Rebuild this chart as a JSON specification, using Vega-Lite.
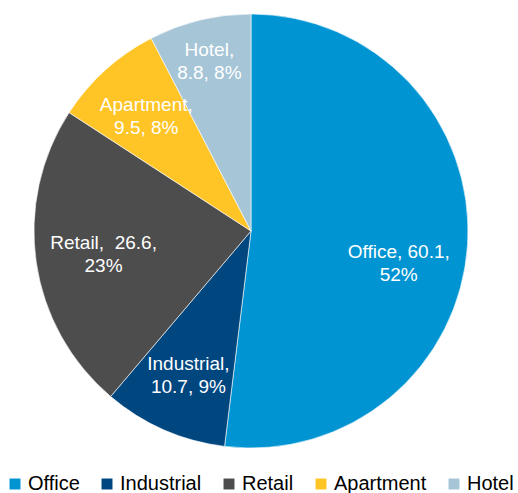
{
  "$schema": "https://vega.github.io/schema/vega-lite/v6.json",
  "width": 502,
  "height": 462,
  "padding": 0,
  "autosize": {"type": "pad"},
  "background": "white",
  "config": {"view": {"stroke": null}, "font": "Liberation Sans"},
  "data": {
    "values": [
      {"sector": "Office", "value": 60.1, "rank": 1, "label": "Office, 60.1,\n52%"},
      {"sector": "Industrial", "value": 10.7, "rank": 2, "label": "Industrial,\n10.7, 9%"},
      {"sector": "Retail", "value": 26.6, "rank": 3, "label": "Retail,\u00a0 26.6,\n23%"},
      {"sector": "Apartment", "value": 9.5, "rank": 4, "label": "Apartment,\n9.5, 8%"},
      {"sector": "Hotel", "value": 8.8, "rank": 5, "label": "Hotel,\n8.8, 8%"}
    ]
  },
  "transform": [
    {"stack": "value", "groupby": [], "sort": [{"field": "rank", "order": "ascending"}], "as": ["v0", "v1"]},
    {"calculate": "(datum.v0 + datum.v1) / 2", "as": "vmid"}
  ],
  "layer": [
    {
      "mark": {"type": "arc", "outerRadius": 217, "stroke": "#ffffff", "strokeWidth": 0.6},
      "encoding": {
        "theta": {"field": "v0", "type": "quantitative", "stack": null, "scale": {"domain": [0, 115.7]}},
        "theta2": {"field": "v1"},
        "color": {
          "field": "sector",
          "type": "nominal",
          "scale": {
            "domain": ["Office", "Industrial", "Retail", "Apartment", "Hotel"],
            "range": ["#0094D2", "#00467F", "#4D4D4D", "#FFC425", "#A6C5D7"]
          },
          "legend": {
            "title": null,
            "orient": "none",
            "direction": "horizontal",
            "legendX": 5,
            "legendY": 474,
            "symbolType": "square",
            "symbolSize": 120,
            "symbolStrokeWidth": 0,
            "labelFontSize": 20,
            "labelFont": "Liberation Sans",
            "labelColor": "#000000",
            "labelOffset": 3,
            "columnPadding": 17
          }
        }
      }
    },
    {
      "transform": [{"filter": "datum.sector === 'Industrial' || datum.sector === 'Apartment'"}],
      "mark": {
        "type": "text",
        "radius": 156,
        "dy": -10,
        "fontSize": 19,
        "font": "Liberation Sans",
        "color": "#ffffff",
        "lineBreak": "\n",
        "lineHeight": 23,
        "align": "center",
        "baseline": "middle"
      },
      "encoding": {
        "theta": {"field": "vmid", "type": "quantitative", "stack": null},
        "text": {"field": "label", "type": "nominal"}
      }
    },
    {
      "transform": [{"filter": "datum.sector === 'Retail'"}],
      "mark": {
        "type": "text",
        "radius": 149,
        "dy": -10,
        "fontSize": 19,
        "font": "Liberation Sans",
        "color": "#ffffff",
        "lineBreak": "\n",
        "lineHeight": 23,
        "align": "center",
        "baseline": "middle"
      },
      "encoding": {
        "theta": {"field": "vmid", "type": "quantitative", "stack": null},
        "text": {"field": "label", "type": "nominal"}
      }
    },
    {
      "transform": [{"filter": "datum.sector === 'Hotel'"}],
      "mark": {
        "type": "text",
        "radius": 176,
        "dy": -10,
        "fontSize": 19,
        "font": "Liberation Sans",
        "color": "#ffffff",
        "lineBreak": "\n",
        "lineHeight": 23,
        "align": "center",
        "baseline": "middle"
      },
      "encoding": {
        "theta": {"field": "vmid", "type": "quantitative", "stack": null},
        "text": {"field": "label", "type": "nominal"}
      }
    },
    {
      "transform": [{"filter": "datum.sector === 'Office'"}],
      "mark": {
        "type": "text",
        "radius": 148,
        "dy": 12,
        "fontSize": 19,
        "font": "Liberation Sans",
        "color": "#ffffff",
        "lineBreak": "\n",
        "lineHeight": 23,
        "align": "center",
        "baseline": "middle"
      },
      "encoding": {
        "theta": {"field": "vmid", "type": "quantitative", "stack": null},
        "text": {"field": "label", "type": "nominal"}
      }
    }
  ]
}
